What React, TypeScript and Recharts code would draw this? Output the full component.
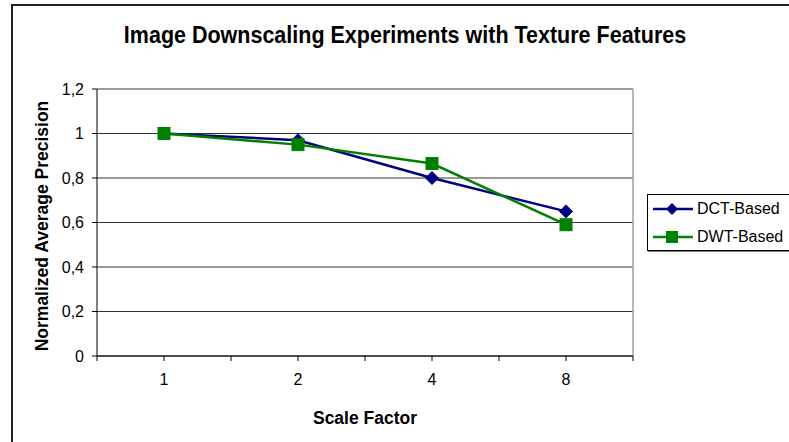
import React from 'react';
import { LineChart, Line, XAxis, YAxis, CartesianGrid, ReferenceLine } from 'recharts';

const categories = ['1', '2', '4', '8'];
const dctValues = [1.0, 0.97, 0.8, 0.65];
const dwtValues = [1.0, 0.95, 0.865, 0.59];
const yTicks = [0, 0.2, 0.4, 0.6, 0.8, 1.0, 1.2];
const yTickLabels = ['0', '0,2', '0,4', '0,6', '0,8', '1', '1,2'];
const seriesNames = ['DCT-Based', 'DWT-Based'];

const data = categories.map((c, i) => ({ x: i + 0.5, cat: c, dct: dctValues[i], dwt: dwtValues[i] }));
const xTicks = [0, 0.5, 1, 1.5, 2, 2.5, 3, 3.5, 4];

const NAVY = '#000080';
const GREEN = '#008000';
const FONT = '"Liberation Sans", Arial, sans-serif';

const Diamond = (props: any) => {
  const { cx, cy } = props;
  if (cx == null || cy == null) return null;
  const r = 6.5;
  return <path d={`M${cx},${cy - r}L${cx + r},${cy}L${cx},${cy + r}L${cx - r},${cy}Z`} fill={NAVY} stroke={NAVY} strokeWidth={1} />;
};
const Square = (props: any) => {
  const { cx, cy } = props;
  if (cx == null || cy == null) return null;
  const r = 6;
  return <rect x={cx - r} y={cy - r} width={2 * r} height={2 * r} fill={GREEN} stroke={GREEN} strokeWidth={1} />;
};

const XTick = (props: any) => {
  const { x, y, payload } = props;
  const v = payload.value;
  const idx = v - 0.5;
  const isCenter = Number.isInteger(idx);
  return (
    <g>
      {isCenter ? (
        <text x={x} y={y + 22} textAnchor="middle" fontSize={16} fill="#000" fontFamily={FONT}>
          {categories[idx]}
        </text>
      ) : null}
    </g>
  );
};

export default function App() {
  return (
    <div style={{ position: 'absolute', left: 0, top: 0, width: 789, height: 442, background: '#fff', overflow: 'hidden', fontFamily: FONT }}>
      <div style={{ position: 'absolute', left: 11, top: 4, width: 800, height: 460, borderLeft: '2px solid #222', borderTop: '2px solid #222', boxSizing: 'border-box' }} />
      <div style={{ position: 'absolute', left: 0, width: 810, top: 22, textAlign: 'center', fontWeight: 'bold', fontSize: 21.5, lineHeight: '26px', color: '#000', transform: 'scaleY(1.12)' }}>
        Image Downscaling Experiments with Texture Features
      </div>
      <div style={{ position: 'absolute', left: 97, width: 536, top: 407, textAlign: 'center', fontWeight: 'bold', fontSize: 17.5, lineHeight: '22px', color: '#000' }}>
        Scale Factor
      </div>
      <div style={{ position: 'absolute', left: 42 - 150, top: 226 - 11, width: 300, height: 22, textAlign: 'center', fontWeight: 'bold', fontSize: 17.5, color: '#000', transform: 'rotate(-90deg)', lineHeight: '22px' }}>
        Normalized Average Precision
      </div>
      <div style={{ position: 'absolute', left: 0, top: 0 }}>
        <LineChart width={789} height={442} data={data} margin={{ top: 89, right: 156, bottom: 56, left: 57 }}>
          <CartesianGrid vertical={false} stroke="#333" strokeWidth={1} />
          <ReferenceLine y={1.2} stroke="#a0a0a0" strokeWidth={1.5} />
          <ReferenceLine x={4} stroke="#a0a0a0" strokeWidth={1.5} />
          <XAxis
            dataKey="x"
            type="number"
            domain={[0, 4]}
            ticks={xTicks}
            interval={0}
            height={30}
            stroke="#000"
            tickSize={5}
            tickLine={{ stroke: '#000' }}
            tick={<XTick />}
            allowDataOverflow
          />
          <YAxis
            type="number"
            domain={[0, 1.2]}
            ticks={yTicks}
            interval={0}
            width={40}
            stroke="#000"
            tickSize={5}
            tickMargin={8}
            tick={{ fontSize: 16, fill: '#000', fontFamily: FONT }}
            tickFormatter={(v: number) => yTickLabels[yTicks.findIndex((t) => Math.abs(t - v) < 1e-6)]}
          />
          <Line dataKey="dct" name={seriesNames[0]} stroke={NAVY} strokeWidth={2.5} dot={<Diamond />} isAnimationActive={false} />
          <Line dataKey="dwt" name={seriesNames[1]} stroke={GREEN} strokeWidth={2.5} dot={<Square />} isAnimationActive={false} />
        </LineChart>
      </div>
      <div style={{ position: 'absolute', left: 647, top: 194, width: 160, height: 57, border: '1px solid #000', boxShadow: '1px 1px 0 #808080', boxSizing: 'border-box', background: '#fff' }}>
        {seriesNames.map((name, i) => (
          <div key={name} style={{ position: 'absolute', left: 5, top: 4 + i * 28, height: 20, display: 'flex', alignItems: 'center' }}>
            <svg width={40} height={20} style={{ display: 'block' }}>
              <line x1={0} y1={10} x2={40} y2={10} stroke={i === 0 ? NAVY : GREEN} strokeWidth={2.5} />
              {i === 0 ? (
                <path d="M19,4L25,10L19,16L13,10Z" fill={NAVY} />
              ) : (
                <rect x={13} y={4} width={12} height={12} fill={GREEN} />
              )}
            </svg>
            <span style={{ fontSize: 16, marginLeft: 4, color: '#000', lineHeight: '20px' }}>{name}</span>
          </div>
        ))}
      </div>
    </div>
  );
}
